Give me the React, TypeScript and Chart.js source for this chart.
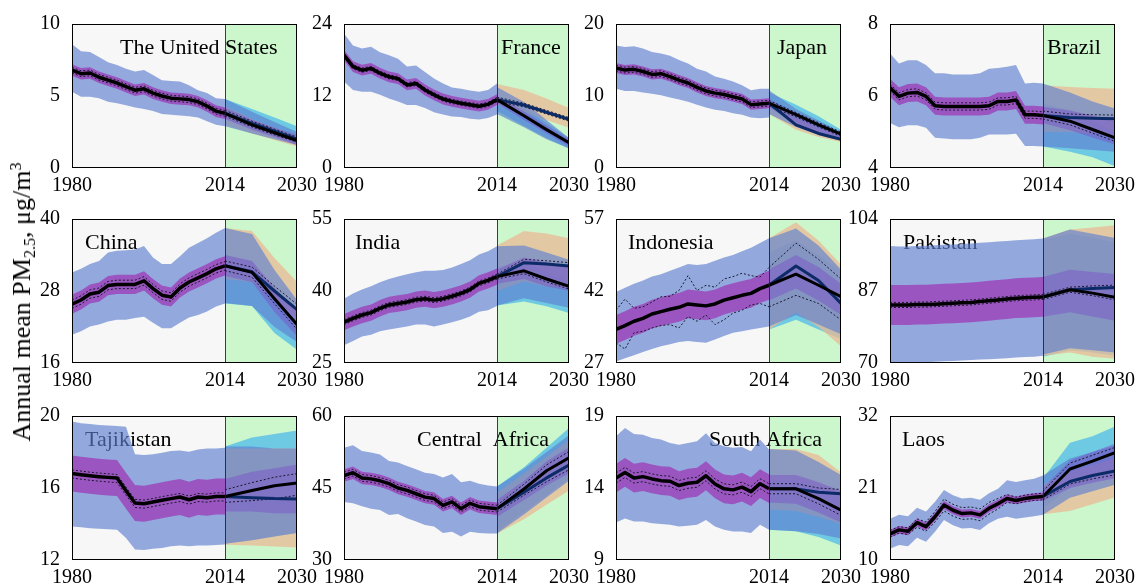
import React, { useEffect, useRef } from 'react';
import { Chart, registerables } from 'chart.js';

Chart.register(...registerables);

// ---------------- data ----------------
const histYears = [1980, 1982, 1984, 1986, 1988, 1990, 1992, 1994, 1996, 1998, 2000, 2002, 2004, 2006, 2008, 2010, 2012, 2014];
const futureYears = [2014, 2020, 2025, 2030];
const xTickYears = [1980, 2014, 2030];
const splitYear = 2014;

const countryNames = ['The United States', 'France', 'Japan', 'Brazil', 'China', 'India', 'Indonesia', 'Pakistan', 'Tajikistan', 'Central  Africa', 'South Africa', 'Laos'];
const yTickValues = [[0, 5, 10], [0, 12, 24], [0, 10, 20], [4, 6, 8], [16, 28, 40], [25, 40, 55], [27, 42, 57], [70, 87, 104], [12, 16, 20], [30, 45, 60], [9, 14, 19], [10, 21, 32]];

// The United States
const usMean = [6.8, 6.55, 6.6, 6.3, 6.1, 5.9, 5.65, 5.4, 5.5, 5.2, 5.0, 4.85, 4.8, 4.75, 4.6, 4.3, 3.95, 3.8];
const usBlueHi = [8.6, 8.1, 8.05, 7.7, 7.35, 7.15, 6.9, 6.7, 6.8, 6.45, 6.1, 6.05, 6.0, 5.75, 5.4, 5.2, 4.85, 4.8];
const usBlueLo = [5.3, 4.95, 4.95, 4.85, 4.6, 4.5, 4.35, 4.2, 4.1, 3.95, 3.75, 3.7, 3.65, 3.6, 3.5, 3.25, 3.0, 2.9];
const usPurHi = [7.2, 6.95, 7.0, 6.7, 6.5, 6.3, 6.05, 5.8, 5.9, 5.6, 5.4, 5.25, 5.2, 5.15, 5.0, 4.7, 4.35, 4.2];
const usPurLo = [6.4, 6.15, 6.2, 5.9, 5.7, 5.5, 5.25, 5.0, 5.1, 4.8, 4.6, 4.45, 4.4, 4.35, 4.2, 3.9, 3.55, 3.4];
const usDotHi = [7.0, 6.75, 6.8, 6.5, 6.3, 6.1, 5.85, 5.6, 5.7, 5.4, 5.2, 5.05, 5.0, 4.95, 4.8, 4.5, 4.15, 4.0];
const usDotLo = [6.6, 6.35, 6.4, 6.1, 5.9, 5.7, 5.45, 5.2, 5.3, 5.0, 4.8, 4.65, 4.6, 4.55, 4.4, 4.1, 3.75, 3.6];
const usBlack = [3.8, 3.0, 2.45, 1.9];
const usNavy = [3.8, 3.1, 2.55, 2.0];
const usPeachHi = [4.3, 3.4, 2.8, 2.2];
const usPeachLo = [3.0, 2.4, 1.95, 1.5];
const usCyanHi = [4.8, 4.1, 3.5, 2.9];
const usCyanLo = [3.4, 2.7, 2.2, 1.8];
const usBlueFHi = [4.8, 3.9, 3.2, 2.5];
const usBlueFLo = [2.9, 2.4, 2.0, 1.6];
const usPurFHi = [4.2, 3.35, 2.8, 2.3];
const usPurFLo = [3.4, 2.65, 2.15, 1.6];
const usDotFHi = [4.0, 3.25, 2.7, 2.15];
const usDotFLo = [3.6, 2.85, 2.3, 1.8];

// France
const frMean = [18.8, 16.9, 16.3, 16.6, 15.8, 15.2, 14.9, 13.85, 14.1, 13.0, 12.2, 11.5, 11.1, 10.8, 10.55, 10.3, 10.6, 11.4];
const frBlueHi = [22.4, 20.4, 19.9, 20.2, 19.3, 18.8, 18.2, 16.9, 17.1, 16.0, 14.9, 14.1, 13.4, 13.2, 12.9, 12.7, 13.0, 14.1];
const frBlueLo = [14.4, 13.0, 12.7, 12.7, 12.2, 11.6, 11.1, 10.5, 10.5, 10.0, 9.3, 8.9, 8.6, 8.5, 8.2, 8.1, 8.35, 8.9];
const frPurHi = [19.7, 17.8, 17.2, 17.5, 16.7, 16.1, 15.8, 14.75, 15.0, 13.9, 13.1, 12.4, 12.0, 11.7, 11.45, 11.2, 11.5, 12.3];
const frPurLo = [17.9, 16.0, 15.4, 15.7, 14.9, 14.3, 14.0, 12.95, 13.2, 12.1, 11.3, 10.6, 10.2, 9.9, 9.65, 9.4, 9.7, 10.5];
const frDotHi = [19.15, 17.25, 16.65, 16.95, 16.15, 15.55, 15.25, 14.2, 14.45, 13.35, 12.55, 11.85, 11.45, 11.15, 10.9, 10.65, 10.95, 11.75];
const frDotLo = [18.45, 16.55, 15.95, 16.25, 15.45, 14.85, 14.55, 13.5, 13.75, 12.65, 11.85, 11.15, 10.75, 10.45, 10.2, 9.95, 10.25, 11.05];
const frBlack = [11.4, 8.7, 6.4, 4.2];
const frNavy = [11.4, 10.5, 9.3, 8.1];
const frPeachHi = [14.0, 13.0, 11.6, 10.0];
const frPeachLo = [10.5, 9.3, 8.0, 6.7];
const frCyanHi = [12.0, 10.0, 7.5, 5.0];
const frCyanLo = [9.5, 7.0, 5.0, 3.2];
const frBlueFHi = [13.5, 11.0, 8.0, 5.0];
const frBlueFLo = [9.0, 6.8, 4.8, 3.3];
const frPurFHi = [12.0, 9.4, 7.1, 4.8];
const frPurFLo = [10.8, 8.0, 5.8, 3.6];
const frDotFHi = [11.8, 10.8, 9.6, 8.4];
const frDotFLo = [11.0, 10.2, 9.0, 7.8];

// Japan
const jpMean = [13.9, 13.6, 13.7, 13.4, 13.0, 13.1, 12.7, 12.2, 11.8, 11.2, 10.7, 10.4, 10.2, 9.9, 9.6, 8.8, 8.9, 9.0];
const jpBlueHi = [17.0, 16.8, 16.9, 16.6, 16.1, 15.9, 15.6, 15.0, 14.5, 13.8, 13.4, 12.7, 12.4, 12.0, 11.5, 10.8, 11.0, 11.0];
const jpBlueLo = [11.0, 10.7, 10.7, 10.5, 10.3, 10.1, 9.8, 9.5, 9.2, 8.8, 8.4, 8.1, 7.9, 7.6, 7.4, 7.0, 6.9, 7.0];
const jpPurHi = [14.6, 14.3, 14.4, 14.1, 13.7, 13.8, 13.4, 12.9, 12.5, 11.9, 11.4, 11.1, 10.9, 10.6, 10.3, 9.5, 9.6, 9.7];
const jpPurLo = [13.2, 12.9, 13.0, 12.7, 12.3, 12.4, 12.0, 11.5, 11.1, 10.5, 10.0, 9.7, 9.5, 9.2, 8.9, 8.1, 8.2, 8.3];
const jpDotHi = [14.3, 14.0, 14.1, 13.8, 13.4, 13.5, 13.1, 12.6, 12.2, 11.6, 11.1, 10.8, 10.6, 10.3, 10.0, 9.2, 9.3, 9.4];
const jpDotLo = [13.5, 13.2, 13.3, 13.0, 12.6, 12.7, 12.3, 11.8, 11.4, 10.8, 10.3, 10.0, 9.8, 9.5, 9.2, 8.4, 8.5, 8.6];
const jpBlack = [9.0, 7.4, 6.0, 4.7];
const jpNavy = [9.0, 6.0, 4.8, 4.0];
const jpPeachHi = [9.0, 7.0, 5.6, 4.6];
const jpPeachLo = [7.5, 5.3, 4.3, 3.6];
const jpCyanHi = [10.5, 8.8, 7.2, 5.3];
const jpCyanLo = [8.2, 6.5, 5.2, 4.2];
const jpBlueFHi = [10.8, 8.2, 6.6, 5.0];
const jpBlueFLo = [7.5, 5.7, 4.6, 3.8];
const jpPurFHi = [9.5, 7.7, 6.3, 4.9];
const jpPurFLo = [8.5, 6.0, 4.8, 3.9];
const jpDotFHi = [9.4, 7.7, 6.3, 5.0];
const jpDotFLo = [8.6, 7.1, 5.7, 4.4];

// Brazil
const brMean = [6.23, 5.99, 6.08, 6.1, 5.99, 5.73, 5.71, 5.71, 5.71, 5.71, 5.71, 5.73, 5.85, 5.85, 5.89, 5.48, 5.48, 5.46];
const brBlueHi = [7.18, 6.9, 6.99, 6.99, 6.86, 6.63, 6.63, 6.6, 6.6, 6.6, 6.63, 6.76, 6.78, 6.81, 6.86, 6.35, 6.37, 6.35];
const brBlueLo = [5.25, 5.13, 5.19, 5.19, 5.12, 4.84, 4.82, 4.8, 4.8, 4.8, 4.84, 4.93, 4.93, 4.93, 4.95, 4.61, 4.61, 4.6];
const brPurHi = [6.48, 6.24, 6.33, 6.35, 6.24, 5.98, 5.96, 5.96, 5.96, 5.96, 5.96, 5.98, 6.1, 6.1, 6.14, 5.73, 5.73, 5.71];
const brPurLo = [5.98, 5.74, 5.83, 5.85, 5.74, 5.48, 5.46, 5.46, 5.46, 5.46, 5.46, 5.48, 5.6, 5.6, 5.64, 5.23, 5.23, 5.21];
const brDotHi = [6.33, 6.09, 6.18, 6.2, 6.09, 5.83, 5.81, 5.81, 5.81, 5.81, 5.81, 5.83, 5.95, 5.95, 5.99, 5.58, 5.58, 5.56];
const brDotLo = [6.13, 5.89, 5.98, 6.0, 5.89, 5.63, 5.61, 5.61, 5.61, 5.61, 5.61, 5.63, 5.75, 5.75, 5.79, 5.38, 5.38, 5.36];
const brBlack = [5.46, 5.3, 5.07, 4.84];
const brNavy = [5.46, 5.4, 5.38, 5.37];
const brPeachHi = [6.3, 6.25, 6.22, 6.2];
const brPeachLo = [5.0, 5.0, 4.95, 4.9];
const brCyanHi = [5.8, 5.6, 5.3, 5.0];
const brCyanLo = [4.6, 4.45, 4.3, 4.05];
const brBlueFHi = [6.35, 6.1, 5.85, 5.65];
const brBlueFLo = [4.6, 4.55, 4.5, 4.45];
const brPurFHi = [5.7, 5.6, 5.45, 5.3];
const brPurFLo = [5.25, 5.05, 4.85, 4.65];
const brDotFHi = [5.58, 5.5, 5.48, 5.47];
const brDotFLo = [5.36, 5.2, 4.97, 4.74];

// China
const cnMean = [25.8, 26.5, 27.5, 27.8, 28.9, 29.1, 29.1, 29.1, 29.7, 28.4, 27.3, 27.0, 28.5, 29.5, 30.2, 30.9, 31.7, 32.2];
const cnBlueHi = [31.1, 31.7, 32.5, 33.0, 34.4, 34.7, 34.8, 34.9, 35.5, 33.6, 32.5, 32.5, 33.8, 35.2, 36.0, 36.8, 37.7, 38.5];
const cnBlueLo = [20.7, 21.3, 22.1, 22.4, 22.9, 23.2, 23.2, 23.5, 23.7, 22.7, 21.8, 21.8, 22.7, 23.6, 24.0, 24.6, 25.4, 25.9];
const cnPurHi = [27.4, 28.1, 29.1, 29.4, 30.5, 30.7, 30.7, 30.7, 31.3, 30.0, 28.9, 28.6, 30.1, 31.1, 31.8, 32.5, 33.3, 33.8];
const cnPurLo = [24.2, 24.9, 25.9, 26.2, 27.3, 27.5, 27.5, 27.5, 28.1, 26.8, 25.7, 25.4, 26.9, 27.9, 28.6, 29.3, 30.1, 30.6];
const cnDotHi = [26.5, 27.2, 28.2, 28.5, 29.6, 29.8, 29.8, 29.8, 30.4, 29.1, 28.0, 27.7, 29.2, 30.2, 30.9, 31.6, 32.4, 32.9];
const cnDotLo = [25.1, 25.8, 26.8, 27.1, 28.2, 28.4, 28.4, 28.4, 29.0, 27.7, 26.6, 26.3, 27.8, 28.8, 29.5, 30.2, 31.0, 31.5];
const cnBlack = [32.2, 31.1, 26.7, 22.4];
const cnNavy = [32.2, 31.2, 28.0, 24.9];
const cnPeachHi = [38.5, 38.0, 33.5, 29.5];
const cnPeachLo = [30.0, 29.5, 26.5, 23.5];
const cnCyanHi = [34.0, 33.0, 27.5, 22.5];
const cnCyanLo = [25.9, 25.5, 21.0, 18.2];
const cnBlueFHi = [38.5, 37.5, 31.5, 26.5];
const cnBlueFLo = [26.0, 25.5, 22.0, 19.5];
const cnPurFHi = [34.0, 33.0, 28.5, 24.5];
const cnPurFLo = [30.5, 29.5, 24.5, 20.5];
const cnDotFHi = [33.0, 32.0, 28.8, 25.8];
const cnDotFLo = [31.4, 30.3, 25.9, 21.6];

// India
const indMean = [33.5, 34.3, 35.0, 35.5, 36.4, 37.1, 37.4, 37.7, 38.2, 38.4, 38.1, 38.4, 38.9, 39.5, 40.3, 41.6, 42.2, 43.0];
const indBlueHi = [38.4, 39.5, 40.3, 41.0, 41.8, 42.5, 43.0, 43.5, 43.9, 44.2, 44.2, 44.4, 44.9, 45.6, 46.4, 47.6, 48.3, 49.3];
const indBlueLo = [28.7, 29.6, 30.5, 30.9, 31.6, 32.0, 32.3, 32.6, 33.0, 33.0, 32.6, 33.0, 33.5, 34.0, 34.7, 35.7, 36.0, 36.9];
const indPurHi = [35.2, 36.0, 36.7, 37.2, 38.1, 38.8, 39.1, 39.4, 39.9, 40.1, 39.8, 40.1, 40.6, 41.2, 42.0, 43.3, 43.9, 44.7];
const indPurLo = [31.8, 32.6, 33.3, 33.8, 34.7, 35.4, 35.7, 36.0, 36.5, 36.7, 36.4, 36.7, 37.2, 37.8, 38.6, 39.9, 40.5, 41.3];
const indDotHi = [34.0, 34.8, 35.5, 36.0, 36.9, 37.6, 37.9, 38.2, 38.7, 38.9, 38.6, 38.9, 39.4, 40.0, 40.8, 42.1, 42.7, 43.5];
const indDotLo = [33.0, 33.8, 34.5, 35.0, 35.9, 36.6, 36.9, 37.2, 37.7, 37.9, 37.6, 37.9, 38.4, 39.0, 39.8, 41.1, 41.7, 42.5];
const indBlack = [43.0, 44.2, 42.5, 41.0];
const indNavy = [43.0, 45.9, 45.6, 45.2];
const indPeachHi = [49.5, 52.5, 52.0, 51.0];
const indPeachLo = [40.0, 42.0, 41.0, 40.5];
const indCyanHi = [45.0, 46.0, 44.0, 42.0];
const indCyanLo = [37.0, 37.8, 36.8, 35.4];
const indBlueFHi = [49.3, 49.5, 48.0, 46.5];
const indBlueFLo = [37.0, 38.5, 37.5, 36.5];
const indPurFHi = [44.5, 47.0, 46.0, 45.0];
const indPurFLo = [41.5, 42.5, 41.0, 40.0];
const indDotFHi = [43.5, 46.6, 46.3, 45.9];
const indDotFLo = [42.5, 43.6, 41.9, 40.4];

// Indonesia
const idnMean = [34.0, 34.8, 35.7, 36.3, 37.2, 37.7, 38.2, 38.6, 39.3, 39.1, 38.9, 39.3, 40.1, 40.6, 41.1, 41.5, 42.5, 43.2];
const idnBlueHi = [41.8, 42.7, 43.5, 44.2, 45.0, 45.5, 46.2, 46.9, 47.6, 47.4, 47.6, 48.3, 49.0, 49.5, 50.3, 51.0, 52.0, 53.0];
const idnBlueLo = [27.3, 28.0, 28.6, 29.3, 29.9, 30.5, 30.9, 31.4, 31.6, 31.4, 31.2, 31.9, 32.6, 33.3, 33.6, 34.0, 34.3, 34.6];
const idnPurHi = [37.0, 37.8, 38.7, 39.3, 40.2, 40.7, 41.2, 41.6, 42.3, 42.1, 41.9, 42.3, 43.1, 43.6, 44.1, 44.5, 45.5, 46.2];
const idnPurLo = [31.0, 31.8, 32.7, 33.3, 34.2, 34.7, 35.2, 35.6, 36.3, 36.1, 35.9, 36.3, 37.1, 37.6, 38.1, 38.5, 39.5, 40.2];
const idnDotHi = [38.0, 40.3, 38.4, 38.7, 39.7, 40.8, 40.9, 42.1, 45.2, 42.1, 43.2, 42.8, 44.5, 45.0, 45.7, 45.2, 44.9, 46.9];
const idnDotLo = [31.2, 29.9, 33.3, 33.6, 34.3, 34.8, 35.0, 34.3, 36.7, 35.7, 37.0, 35.0, 36.0, 37.4, 38.0, 39.1, 39.4, 38.7];
const idnBlack = [43.2, 45.5, 43.2, 40.8];
const idnNavy = [43.2, 47.2, 44.2, 39.4];
const idnPeachHi = [53.0, 56.3, 52.5, 47.5];
const idnPeachLo = [34.0, 37.5, 34.5, 30.5];
const idnCyanHi = [50.0, 52.5, 49.5, 46.0];
const idnCyanLo = [34.0, 36.0, 34.0, 32.0];
const idnBlueFHi = [53.0, 55.0, 51.5, 46.5];
const idnBlueFLo = [34.6, 37.0, 35.0, 33.0];
const idnPurFHi = [46.5, 49.5, 47.0, 43.5];
const idnPurFLo = [40.0, 42.5, 40.0, 37.0];
const idnDotFHi = [46.9, 52.0, 48.6, 44.5];
const idnDotFLo = [38.7, 41.1, 39.4, 36.0];

// Pakistan
const pkMean = [83.7, 83.7, 83.7, 83.8, 83.8, 83.9, 84.0, 84.1, 84.2, 84.3, 84.5, 84.7, 84.9, 85.1, 85.3, 85.4, 85.5, 85.6];
const pkBlueHi = [97.6, 97.5, 97.5, 97.6, 97.7, 97.8, 97.9, 98.0, 98.1, 98.2, 98.4, 98.5, 98.7, 98.8, 99.0, 99.1, 99.2, 99.4];
const pkBlueLo = [70.0, 70.0, 70.05, 70.1, 70.2, 70.3, 70.4, 70.5, 70.6, 70.7, 70.8, 70.9, 71.0, 71.1, 71.3, 71.4, 71.5, 71.7];
const pkPurHi = [88.4, 88.4, 88.4, 88.5, 88.5, 88.6, 88.7, 88.8, 88.9, 89.0, 89.2, 89.4, 89.6, 89.8, 90.0, 90.1, 90.2, 90.3];
const pkPurLo = [79.0, 79.0, 79.0, 79.1, 79.1, 79.2, 79.3, 79.4, 79.5, 79.6, 79.8, 80.0, 80.2, 80.4, 80.6, 80.7, 80.8, 80.9];
const pkDotHi = [84.3, 84.3, 84.3, 84.4, 84.4, 84.5, 84.6, 84.7, 84.8, 84.9, 85.1, 85.3, 85.5, 85.7, 85.9, 86.0, 86.1, 86.2];
const pkDotLo = [83.1, 83.1, 83.1, 83.2, 83.2, 83.3, 83.4, 83.5, 83.6, 83.7, 83.9, 84.1, 84.3, 84.5, 84.7, 84.8, 84.9, 85.0];
const pkBlack = [85.6, 87.3, 86.5, 85.5];
const pkNavy = [85.6, 87.3, 87.6, 87.8];
const pkPeachHi = [99.4, 101.5, 102.0, 102.5];
const pkPeachLo = [71.7, 72.5, 71.5, 71.0];
const pkCyanHi = [99.0, 100.5, 99.5, 98.5];
const pkCyanLo = [71.5, 73.0, 72.5, 71.7];
const pkBlueFHi = [99.4, 101.5, 100.5, 99.5];
const pkBlueFLo = [72.0, 73.5, 73.0, 72.5];
const pkPurFHi = [90.3, 92.0, 91.5, 91.0];
const pkPurFLo = [80.9, 82.0, 81.0, 80.0];
const pkDotFHi = [86.2, 87.9, 88.2, 88.4];
const pkDotFLo = [85.0, 86.7, 85.9, 84.9];

// Tajikistan
const tjMean = [16.81, 16.74, 16.68, 16.63, 16.59, 16.55, 15.85, 15.17, 15.13, 15.22, 15.32, 15.41, 15.5, 15.35, 15.5, 15.46, 15.53, 15.53];
const tjBlueHi = [19.7, 19.6, 19.55, 19.5, 19.47, 19.45, 19.4, 17.87, 17.83, 17.87, 17.96, 18.05, 18.08, 18.01, 18.14, 18.2, 18.2, 18.23];
const tjBlueLo = [13.86, 13.82, 13.77, 13.73, 13.71, 13.68, 13.22, 12.58, 12.55, 12.62, 12.67, 12.77, 12.8, 12.77, 12.8, 12.8, 12.84, 12.86];
const tjPurHi = [17.81, 17.74, 17.68, 17.63, 17.59, 17.55, 16.85, 16.17, 16.13, 16.22, 16.32, 16.41, 16.5, 16.35, 16.5, 16.46, 16.53, 16.53];
const tjPurLo = [15.81, 15.74, 15.68, 15.63, 15.59, 15.55, 14.85, 14.17, 14.13, 14.22, 14.32, 14.41, 14.5, 14.35, 14.5, 14.46, 14.53, 14.53];
const tjDotHi = [17.01, 16.94, 16.88, 16.83, 16.79, 16.75, 16.05, 15.37, 15.33, 15.42, 15.52, 15.61, 15.7, 15.55, 15.7, 15.66, 15.73, 15.73];
const tjDotLo = [16.56, 16.49, 16.43, 16.38, 16.34, 16.3, 15.6, 14.92, 14.88, 14.97, 15.07, 15.16, 15.25, 15.1, 15.25, 15.21, 15.28, 15.28];
const tjBlack = [15.53, 15.86, 16.13, 16.28];
const tjNavy = [15.53, 15.46, 15.41, 15.39];
const tjPeachHi = [18.2, 18.2, 18.2, 18.2];
const tjPeachLo = [12.85, 12.8, 12.75, 12.7];
const tjCyanHi = [18.3, 18.8, 19.0, 19.2];
const tjCyanLo = [12.9, 13.1, 13.3, 13.5];
const tjBlueFHi = [18.3, 18.3, 18.2, 18.2];
const tjBlueFLo = [12.9, 13.1, 13.3, 13.5];
const tjPurFHi = [16.5, 16.9, 17.1, 17.3];
const tjPurFLo = [14.7, 14.7, 14.6, 14.6];
const tjDotFHi = [15.9, 16.3, 16.6, 16.8];
const tjDotFLo = [15.2, 15.3, 15.4, 15.6];

// Central Africa
const cafMean = [47.6, 48.2, 47.1, 46.9, 46.5, 45.9, 45.0, 44.5, 43.8, 43.1, 42.8, 41.4, 42.1, 40.7, 41.8, 41.1, 40.9, 40.7];
const cafBlueHi = [53.4, 53.9, 52.7, 52.4, 52.0, 50.6, 50.3, 49.6, 48.9, 48.2, 47.9, 47.2, 47.9, 46.2, 46.5, 45.9, 45.5, 45.3];
const cafBlueLo = [42.1, 41.8, 41.2, 40.7, 40.4, 39.4, 39.6, 38.7, 38.0, 37.3, 37.0, 35.6, 35.9, 34.9, 35.9, 35.6, 35.5, 35.5];
const cafPurHi = [48.9, 49.5, 48.4, 48.2, 47.8, 47.2, 46.3, 45.8, 45.1, 44.4, 44.1, 42.7, 43.4, 42.0, 43.1, 42.4, 42.2, 42.0];
const cafPurLo = [46.3, 46.9, 45.8, 45.6, 45.2, 44.6, 43.7, 43.2, 42.5, 41.8, 41.5, 40.1, 40.8, 39.4, 40.5, 39.8, 39.6, 39.4];
const cafDotHi = [48.3, 48.9, 47.8, 47.6, 47.2, 46.6, 45.7, 45.2, 44.5, 43.8, 43.5, 42.1, 42.8, 41.4, 42.5, 41.8, 41.6, 41.4];
const cafDotLo = [46.9, 47.5, 46.4, 46.2, 45.8, 45.2, 44.3, 43.8, 43.1, 42.4, 42.1, 40.7, 41.4, 40.0, 41.1, 40.4, 40.2, 40.0];
const cafBlack = [40.7, 44.8, 48.6, 51.3];
const cafNavy = [40.7, 44.1, 47.1, 49.8];
const cafPeachHi = [44.0, 48.0, 51.5, 55.0];
const cafPeachLo = [35.5, 38.5, 41.5, 44.5];
const cafCyanHi = [45.3, 49.3, 53.4, 57.5];
const cafCyanLo = [36.0, 40.0, 43.5, 47.0];
const cafBlueFHi = [45.3, 49.0, 52.5, 56.0];
const cafBlueFLo = [35.5, 39.5, 43.0, 46.5];
const cafPurFHi = [42.5, 46.5, 50.5, 53.5];
const cafPurFLo = [39.0, 42.5, 45.5, 48.0];
const cafDotFHi = [41.4, 45.8, 49.8, 52.6];
const cafDotFLo = [40.0, 43.5, 46.3, 48.8];

// South Africa
const zaMean = [14.69, 15.08, 14.69, 14.79, 14.63, 14.51, 14.47, 14.17, 14.33, 14.4, 14.85, 14.28, 13.94, 13.87, 14.06, 13.75, 14.3, 13.95];
const zaBlueHi = [17.6, 18.16, 17.75, 17.7, 17.47, 17.36, 17.13, 17.0, 17.13, 17.25, 17.8, 17.13, 16.9, 16.79, 16.84, 16.56, 17.36, 16.68];
const zaBlueLo = [11.6, 11.89, 11.67, 11.67, 11.55, 11.5, 11.44, 11.32, 11.37, 11.44, 11.78, 11.32, 11.1, 10.98, 10.98, 10.87, 11.44, 11.1];
const zaPurHi = [15.69, 16.08, 15.69, 15.79, 15.63, 15.51, 15.47, 15.17, 15.33, 15.4, 15.85, 15.28, 14.94, 14.87, 15.06, 14.75, 15.3, 14.95];
const zaPurLo = [13.69, 14.08, 13.69, 13.79, 13.63, 13.51, 13.47, 13.17, 13.33, 13.4, 13.85, 13.28, 12.94, 12.87, 13.06, 12.75, 13.3, 12.95];
const zaDotHi = [15.04, 15.43, 15.04, 15.14, 14.98, 14.86, 14.82, 14.52, 14.68, 14.75, 15.2, 14.63, 14.29, 14.22, 14.41, 14.1, 14.65, 14.3];
const zaDotLo = [14.34, 14.73, 14.34, 14.44, 14.28, 14.16, 14.12, 13.82, 13.98, 14.05, 14.5, 13.93, 13.59, 13.52, 13.71, 13.4, 13.95, 13.6];
const zaBlack = [13.95, 13.94, 13.26, 12.46];
const zaNavy = [13.95, 13.94, 13.7, 13.6];
const zaPeachHi = [16.7, 16.7, 16.3, 15.1];
const zaPeachLo = [12.5, 12.4, 12.0, 11.5];
const zaCyanHi = [14.5, 14.5, 14.0, 13.5];
const zaCyanLo = [11.1, 11.0, 10.6, 10.0];
const zaBlueFHi = [16.7, 16.6, 15.8, 14.9];
const zaBlueFLo = [11.1, 11.0, 10.8, 10.5];
const zaPurFHi = [14.9, 14.9, 14.4, 13.8];
const zaPurFLo = [13.0, 12.9, 12.3, 11.6];
const zaDotFHi = [14.3, 14.3, 14.0, 13.9];
const zaDotFLo = [13.6, 13.6, 12.9, 12.1];

// Laos
const laMean = [14.0, 14.6, 14.4, 15.7, 15.1, 16.6, 18.4, 17.6, 17.1, 17.2, 16.9, 17.9, 18.6, 19.4, 19.1, 19.4, 19.6, 19.7];
const laBlueHi = [16.3, 16.9, 16.7, 18.0, 17.4, 18.9, 20.7, 19.9, 19.4, 19.5, 19.2, 20.2, 20.9, 22.2, 21.9, 22.2, 22.4, 22.9];
const laBlueLo = [11.7, 12.3, 12.1, 13.4, 12.8, 14.3, 16.1, 15.3, 14.8, 14.9, 14.6, 15.6, 16.3, 16.6, 16.3, 16.5, 16.7, 16.9];
const laPurHi = [14.6, 15.2, 15.0, 16.3, 15.7, 17.2, 19.0, 18.2, 17.7, 17.8, 17.5, 18.5, 19.2, 20.0, 19.7, 20.0, 20.2, 20.3];
const laPurLo = [13.4, 14.0, 13.8, 15.1, 14.5, 16.0, 17.8, 17.0, 16.5, 16.6, 16.3, 17.3, 18.0, 18.8, 18.5, 18.8, 19.0, 19.1];
const laDotHi = [14.5, 15.1, 14.9, 16.3, 15.8, 17.4, 19.3, 18.5, 18.0, 18.1, 17.8, 18.8, 19.4, 20.0, 19.6, 19.9, 20.1, 20.2];
const laDotLo = [13.5, 14.1, 13.9, 15.0, 14.4, 15.8, 17.5, 16.7, 16.2, 16.3, 16.0, 17.0, 17.8, 18.8, 18.6, 18.9, 19.1, 19.2];
const laBlack = [19.7, 23.9, 25.1, 26.4];
const laNavy = [19.7, 22.0, 22.9, 23.6];
const laPeachHi = [21.5, 23.5, 24.5, 25.5];
const laPeachLo = [17.0, 17.5, 18.5, 19.6];
const laCyanHi = [22.5, 27.9, 28.9, 30.4];
const laCyanLo = [18.0, 21.0, 22.0, 23.0];
const laBlueFHi = [22.9, 25.5, 26.5, 27.5];
const laBlueFLo = [16.9, 19.5, 20.5, 21.5];
const laPurFHi = [21.0, 25.2, 26.5, 27.8];
const laPurFLo = [19.0, 21.0, 21.8, 22.5];
const laDotFHi = [20.5, 24.8, 26.0, 27.2];
const laDotFLo = [19.2, 21.6, 22.4, 23.0];

// ---------------- layout & style ----------------
const colLeft = [72, 344, 616, 890];
const rowTop = [22, 217, 414];
const plotW = 225;
const plotH = 146;
const padL = 60;
const padR = 30;
const padT = 14;
const padB = 30;
const titleOffsets = [48, 157, 161, 157, 13, 11, 12, 13, 13, 73, 93, 12];
const FONT = '"Liberation Serif", "Times New Roman", serif';

const C_HIST_BG = '#f7f7f7';
const C_FUT_BG = '#ccf7cc';
const C_BLUE = 'rgba(93,128,208,0.65)';
const C_PURPLE = '#9a55c0';
const C_PEACH = 'rgba(235,185,150,0.75)';
const C_CYAN = 'rgba(100,195,228,0.9)';
const C_PURPLE_F = 'rgba(125,75,200,0.45)';
const C_NAVY = '#0b2a66';
const C_DOT = '#1a1a2e';

type PanelData = {
  name: string;
  ticks: number[];
  dx: number;
  h: number[][]; // mean, blueHi, blueLo, purHi, purLo, dotHi, dotLo
  f: number[][]; // black, navy, peachHi, peachLo, cyanHi, cyanLo, blueFHi, blueFLo, purFHi, purFLo, dotFHi, dotFLo
};

const panels: PanelData[] = [
  { name: countryNames[0], ticks: yTickValues[0], dx: titleOffsets[0], h: [usMean, usBlueHi, usBlueLo, usPurHi, usPurLo, usDotHi, usDotLo], f: [usBlack, usNavy, usPeachHi, usPeachLo, usCyanHi, usCyanLo, usBlueFHi, usBlueFLo, usPurFHi, usPurFLo, usDotFHi, usDotFLo] },
  { name: countryNames[1], ticks: yTickValues[1], dx: titleOffsets[1], h: [frMean, frBlueHi, frBlueLo, frPurHi, frPurLo, frDotHi, frDotLo], f: [frBlack, frNavy, frPeachHi, frPeachLo, frCyanHi, frCyanLo, frBlueFHi, frBlueFLo, frPurFHi, frPurFLo, frDotFHi, frDotFLo] },
  { name: countryNames[2], ticks: yTickValues[2], dx: titleOffsets[2], h: [jpMean, jpBlueHi, jpBlueLo, jpPurHi, jpPurLo, jpDotHi, jpDotLo], f: [jpBlack, jpNavy, jpPeachHi, jpPeachLo, jpCyanHi, jpCyanLo, jpBlueFHi, jpBlueFLo, jpPurFHi, jpPurFLo, jpDotFHi, jpDotFLo] },
  { name: countryNames[3], ticks: yTickValues[3], dx: titleOffsets[3], h: [brMean, brBlueHi, brBlueLo, brPurHi, brPurLo, brDotHi, brDotLo], f: [brBlack, brNavy, brPeachHi, brPeachLo, brCyanHi, brCyanLo, brBlueFHi, brBlueFLo, brPurFHi, brPurFLo, brDotFHi, brDotFLo] },
  { name: countryNames[4], ticks: yTickValues[4], dx: titleOffsets[4], h: [cnMean, cnBlueHi, cnBlueLo, cnPurHi, cnPurLo, cnDotHi, cnDotLo], f: [cnBlack, cnNavy, cnPeachHi, cnPeachLo, cnCyanHi, cnCyanLo, cnBlueFHi, cnBlueFLo, cnPurFHi, cnPurFLo, cnDotFHi, cnDotFLo] },
  { name: countryNames[5], ticks: yTickValues[5], dx: titleOffsets[5], h: [indMean, indBlueHi, indBlueLo, indPurHi, indPurLo, indDotHi, indDotLo], f: [indBlack, indNavy, indPeachHi, indPeachLo, indCyanHi, indCyanLo, indBlueFHi, indBlueFLo, indPurFHi, indPurFLo, indDotFHi, indDotFLo] },
  { name: countryNames[6], ticks: yTickValues[6], dx: titleOffsets[6], h: [idnMean, idnBlueHi, idnBlueLo, idnPurHi, idnPurLo, idnDotHi, idnDotLo], f: [idnBlack, idnNavy, idnPeachHi, idnPeachLo, idnCyanHi, idnCyanLo, idnBlueFHi, idnBlueFLo, idnPurFHi, idnPurFLo, idnDotFHi, idnDotFLo] },
  { name: countryNames[7], ticks: yTickValues[7], dx: titleOffsets[7], h: [pkMean, pkBlueHi, pkBlueLo, pkPurHi, pkPurLo, pkDotHi, pkDotLo], f: [pkBlack, pkNavy, pkPeachHi, pkPeachLo, pkCyanHi, pkCyanLo, pkBlueFHi, pkBlueFLo, pkPurFHi, pkPurFLo, pkDotFHi, pkDotFLo] },
  { name: countryNames[8], ticks: yTickValues[8], dx: titleOffsets[8], h: [tjMean, tjBlueHi, tjBlueLo, tjPurHi, tjPurLo, tjDotHi, tjDotLo], f: [tjBlack, tjNavy, tjPeachHi, tjPeachLo, tjCyanHi, tjCyanLo, tjBlueFHi, tjBlueFLo, tjPurFHi, tjPurFLo, tjDotFHi, tjDotFLo] },
  { name: countryNames[9], ticks: yTickValues[9], dx: titleOffsets[9], h: [cafMean, cafBlueHi, cafBlueLo, cafPurHi, cafPurLo, cafDotHi, cafDotLo], f: [cafBlack, cafNavy, cafPeachHi, cafPeachLo, cafCyanHi, cafCyanLo, cafBlueFHi, cafBlueFLo, cafPurFHi, cafPurFLo, cafDotFHi, cafDotFLo] },
  { name: countryNames[10], ticks: yTickValues[10], dx: titleOffsets[10], h: [zaMean, zaBlueHi, zaBlueLo, zaPurHi, zaPurLo, zaDotHi, zaDotLo], f: [zaBlack, zaNavy, zaPeachHi, zaPeachLo, zaCyanHi, zaCyanLo, zaBlueFHi, zaBlueFLo, zaPurFHi, zaPurFLo, zaDotFHi, zaDotFLo] },
  { name: countryNames[11], ticks: yTickValues[11], dx: titleOffsets[11], h: [laMean, laBlueHi, laBlueLo, laPurHi, laPurLo, laDotHi, laDotLo], f: [laBlack, laNavy, laPeachHi, laPeachLo, laCyanHi, laCyanLo, laBlueFHi, laBlueFLo, laPurFHi, laPurFLo, laDotFHi, laDotFLo] },
];

function Panel({ p, left, top }: { p: PanelData; left: number; top: number }) {
  const ref = useRef<HTMLCanvasElement>(null);
  useEffect(() => {
    const canvas = ref.current;
    if (!canvas) return;
    const ds: any[] = [];
    let order = 1000;
    const pts = (xs: number[], ys: number[]) => xs.map((x, i) => ({ x, y: ys[i] }));
    const band = (xs: number[], hi: number[], lo: number[], color: string) => {
      const i = ds.length;
      order--;
      ds.push({ data: pts(xs, hi), fill: i + 1, backgroundColor: color, borderColor: 'rgba(0,0,0,0)', borderWidth: 0, pointRadius: 0, order });
      ds.push({ data: pts(xs, lo), fill: false, borderColor: 'rgba(0,0,0,0)', borderWidth: 0, pointRadius: 0, order });
    };
    const line = (xs: number[], ys: number[], color: string, width: number, dash: number[]) => {
      order--;
      ds.push({ data: pts(xs, ys), fill: false, borderColor: color, borderWidth: width, borderDash: dash, pointRadius: 0, order, borderJoinStyle: 'round', borderCapStyle: 'butt' });
    };
    const [mean, blueHi, blueLo, purHi, purLo, dotHi, dotLo] = p.h;
    const [black, navy, peachHi, peachLo, cyanHi, cyanLo, blueFHi, blueFLo, purFHi, purFLo, dotFHi, dotFLo] = p.f;

    band(futureYears, cyanHi, cyanLo, C_CYAN);
    band(futureYears, peachHi, peachLo, C_PEACH);
    band(histYears, blueHi, blueLo, C_BLUE);
    band(futureYears, blueFHi, blueFLo, C_BLUE);
    band(histYears, purHi, purLo, C_PURPLE);
    band(futureYears, purFHi, purFLo, C_PURPLE_F);
    line(histYears, dotHi, C_DOT, 1, [2, 2]);
    line(histYears, dotLo, C_DOT, 1, [2, 2]);
    line(futureYears, dotFHi, C_DOT, 1, [2, 2]);
    line(futureYears, dotFLo, C_DOT, 1, [2, 2]);
    line(histYears, mean, '#000', 3.5, []);
    line(futureYears, navy, C_NAVY, 3, []);
    line(futureYears, black, '#000', 3, []);

    const deco = {
      id: 'deco',
      beforeDatasetsDraw(chart: any) {
        const { ctx, chartArea: a, scales } = chart;
        const xs = scales.x.getPixelForValue(splitYear);
        ctx.save();
        ctx.fillStyle = C_HIST_BG;
        ctx.fillRect(a.left, a.top, xs - a.left, a.bottom - a.top);
        ctx.fillStyle = C_FUT_BG;
        ctx.fillRect(xs, a.top, a.right - xs, a.bottom - a.top);
        ctx.fillStyle = '#000';
        ctx.font = `22px ${FONT}`;
        ctx.textBaseline = 'alphabetic';
        ctx.textAlign = 'left';
        ctx.fillText(p.name, a.left + p.dx, a.top + 30);
        ctx.restore();
      },
      afterDatasetsDraw(chart: any) {
        const { ctx, chartArea: a, scales } = chart;
        const xs = Math.round(scales.x.getPixelForValue(splitYear)) + 0.5;
        ctx.save();
        ctx.strokeStyle = 'rgba(30,30,30,0.85)';
        ctx.lineWidth = 1;
        ctx.beginPath();
        ctx.moveTo(xs, a.top);
        ctx.lineTo(xs, a.bottom);
        ctx.stroke();
        ctx.strokeStyle = '#000';
        ctx.strokeRect(Math.round(a.left) + 0.5, Math.round(a.top) + 0.5, Math.round(a.right - a.left) - 1, Math.round(a.bottom - a.top) - 1);
        ctx.restore();
      },
    };

    const tickFont = { family: FONT, size: 20 };
    const chart = new Chart(canvas, {
      type: 'line',
      data: { datasets: ds },
      options: {
        animation: false,
        responsive: false,
        maintainAspectRatio: false,
        events: [],
        layout: { padding: { left: 0, right: padR, top: padT, bottom: 0 } },
        plugins: { legend: { display: false }, tooltip: { enabled: false } },
        scales: {
          x: {
            type: 'linear',
            min: histYears[0],
            max: futureYears[futureYears.length - 1],
            grid: { display: false },
            border: { display: false },
            ticks: { autoSkip: false, maxRotation: 0, padding: -2, color: '#000', font: tickFont, callback: (v: any) => String(v) },
            afterBuildTicks: (ax: any) => { ax.ticks = xTickYears.map((v) => ({ value: v })); },
            afterFit: (ax: any) => { ax.height = padB; },
          },
          y: {
            type: 'linear',
            min: p.ticks[0],
            max: p.ticks[p.ticks.length - 1],
            grid: { display: false },
            border: { display: false },
            ticks: { autoSkip: false, padding: 4, color: '#000', font: tickFont, callback: (v: any) => String(v) },
            afterBuildTicks: (ax: any) => { ax.ticks = p.ticks.map((v) => ({ value: v })); },
            afterFit: (ax: any) => { ax.width = padL; },
          },
        },
      } as any,
      plugins: [deco],
    });
    return () => chart.destroy();
  }, [p]);
  const w = padL + plotW + padR;
  const h = padT + plotH + padB;
  return (
    <canvas
      ref={ref}
      width={w}
      height={h}
      style={{ position: 'absolute', left: left - padL, top: top - padT, width: w, height: h }}
    />
  );
}

export default function App() {
  return (
    <div style={{ position: 'absolute', left: 0, top: 0, width: 1136, height: 588, background: '#fff', overflow: 'hidden' }}>
      {panels.map((p, i) => (
        <Panel key={i} p={p} left={colLeft[i % 4]} top={rowTop[Math.floor(i / 4)]} />
      ))}
      <div
        style={{
          position: 'absolute',
          left: 22,
          top: 302,
          transform: 'translate(-50%, -50%) rotate(-90deg)',
          whiteSpace: 'nowrap',
          fontFamily: FONT,
          fontSize: 26,
          color: '#000',
          lineHeight: 1,
        }}
      >
        Annual mean PM<span style={{ fontSize: '0.62em', position: 'relative', top: '0.3em' }}>2.5</span>, μg/m<span style={{ fontSize: '0.62em', position: 'relative', top: '-0.55em' }}>3</span>
      </div>
    </div>
  );
}
